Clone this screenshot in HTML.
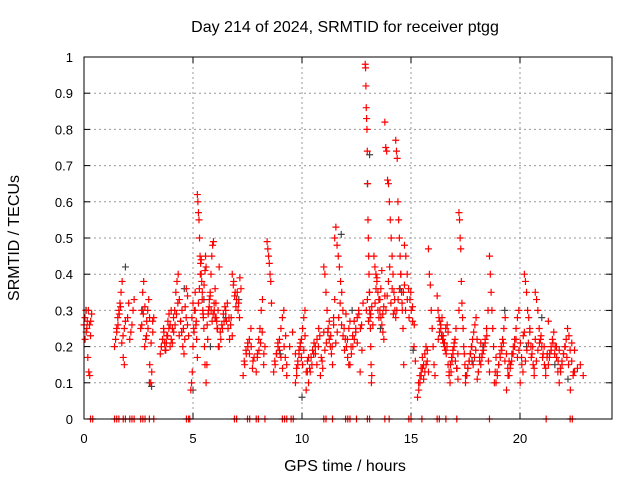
<!DOCTYPE html>
<html><head><meta charset="utf-8"><style>
body{margin:0;background:#fff}
svg text{font-family:"Liberation Sans",sans-serif;fill:#000}
</style></head><body>
<svg id="chart" width="640" height="480" viewBox="0 0 640 480" xmlns="http://www.w3.org/2000/svg">
<rect width="640" height="480" fill="#fff"/>
<text x="345" y="32" font-size="16" text-anchor="middle">Day 214 of 2024, SRMTID for receiver ptgg</text>
<text transform="translate(19,238) rotate(-90)" font-size="16" text-anchor="middle">SRMTID / TECUs</text>
<text x="345" y="471" font-size="16" text-anchor="middle">GPS time / hours</text>
<g id="grid"></g><g id="axes"></g><g id="gray"></g><g id="red"></g>
<rect x="84" y="57" width="528" height="362" fill="none" stroke="#000" stroke-width="1"/>
</svg>
<script>
const xTicks=[0,5,10,15,20];
const yTicks=[0,0.1,0.2,0.3,0.4,0.5,0.6,0.7,0.8,0.9,1];
const yTickLabels=["0","0.1","0.2","0.3","0.4","0.5","0.6","0.7","0.8","0.9","1"];
// red series groups: [startHour, endHour, values...]
const redGroups=[
[0.0,0.35,[0.26,0.28,0.3,0.25,0.17,0.13,0.12,0.27,0.29]],
[1.4,1.9,[0.2,0.22,0.25,0.28,0.3,0.32,0.35,0.38,0.17,0.15,0.27]],
[2.0,2.3,[0.28,0.32,0.22,0.24,0.26,0.3,0.33]],
[2.6,3.2,[0.25,0.3,0.35,0.38,0.2,0.22,0.27,0.3,0.33,0.15,0.1,0.13,0.24,0.28]],
[3.5,4.0,[0.18,0.2,0.22,0.25,0.21,0.19,0.23,0.27,0.29,0.26,0.3]],
[4.0,4.8,[0.22,0.25,0.28,0.3,0.35,0.38,0.4,0.33,0.27,0.24,0.2,0.18,0.31,0.36,0.26,0.23]],
[4.9,5.2,[0.08,0.1,0.13,0.2,0.25,0.3,0.35,0.26,0.22,0.17]],
[5.2,5.6,[0.62,0.6,0.57,0.55,0.5,0.45,0.43,0.4,0.38,0.35,0.3,0.28,0.25,0.2,0.15,0.45,0.42]],
[5.6,6.2,[0.1,0.15,0.22,0.3,0.33,0.35,0.4,0.45,0.48,0.49,0.3,0.28,0.32,0.27,0.25,0.2,0.42]],
[6.2,6.8,[0.2,0.22,0.25,0.27,0.3,0.32,0.28,0.26,0.23]],
[6.8,7.2,[0.4,0.38,0.35,0.33,0.3,0.28,0.36]],
[7.3,7.8,[0.12,0.15,0.18,0.2,0.22,0.25,0.14,0.17]],
[7.9,8.3,[0.13,0.18,0.22,0.25,0.3,0.33,0.15,0.2]],
[8.4,8.6,[0.49,0.47,0.45,0.43,0.4,0.38,0.32]],
[8.7,9.3,[0.13,0.15,0.18,0.2,0.22,0.25,0.28,0.3,0.17,0.12]],
[9.3,9.7,[0.15,0.2,0.24,0.18]],
[9.7,10.3,[0.1,0.12,0.15,0.18,0.2,0.22,0.25,0.28,0.3,0.08,0.13,0.17]],
[10.3,11.0,[0.1,0.13,0.15,0.18,0.2,0.22,0.25,0.12,0.16,0.24]],
[11.0,11.5,[0.42,0.4,0.35,0.3,0.25,0.22,0.2,0.18,0.15,0.28,0.33]],
[11.5,12.2,[0.5,0.53,0.48,0.45,0.42,0.38,0.35,0.3,0.25,0.22,0.2,0.17,0.15,0.27]],
[12.2,12.8,[0.15,0.18,0.2,0.22,0.25,0.28,0.3,0.13,0.26,0.32]],
[12.9,13.2,[0.98,0.97,0.92,0.86,0.83,0.8,0.74,0.65,0.55,0.5,0.45,0.4,0.35,0.3,0.28,0.25,0.2,0.15,0.1,0.12]],
[13.3,13.8,[0.45,0.42,0.4,0.38,0.35,0.33,0.3,0.28,0.26,0.24,0.22,0.34]],
[13.8,14.3,[0.82,0.75,0.74,0.66,0.65,0.6,0.55,0.5,0.45,0.4,0.35,0.3,0.28]],
[14.3,14.7,[0.77,0.74,0.72,0.6,0.55,0.5,0.45,0.4,0.35,0.3,0.25,0.15,0.37]],
[14.7,15.2,[0.48,0.45,0.4,0.36,0.33,0.3,0.27,0.2,0.16]],
[15.3,15.8,[0.06,0.08,0.1,0.12,0.14,0.15,0.18,0.2,0.16,0.13]],
[15.8,16.1,[0.47,0.4,0.37,0.3,0.25,0.2,0.15,0.12]],
[16.2,16.7,[0.34,0.3,0.28,0.27,0.25,0.23,0.22,0.21,0.2,0.19,0.18,0.26,0.24]],
[16.7,17.2,[0.15,0.12,0.1,0.13,0.16,0.18,0.2,0.22,0.25,0.14,0.11,0.3]],
[17.2,17.5,[0.57,0.55,0.5,0.47,0.38,0.32,0.28,0.25,0.2,0.18,0.15,0.12]],
[17.5,18.2,[0.1,0.12,0.14,0.16,0.18,0.2,0.22,0.24,0.26,0.28,0.11,0.13,0.17,0.21]],
[18.2,18.6,[0.15,0.18,0.2,0.22,0.25,0.3,0.13]],
[18.6,18.9,[0.45,0.4,0.35,0.3,0.25,0.2,0.1,0.13,0.17]],
[18.9,19.5,[0.1,0.12,0.15,0.18,0.2,0.22,0.25,0.28,0.08,0.14,0.16]],
[19.5,20.2,[0.12,0.15,0.18,0.2,0.22,0.25,0.28,0.3,0.1,0.17,0.13,0.24]],
[20.2,20.7,[0.4,0.38,0.35,0.3,0.28,0.25,0.2,0.18,0.15,0.12,0.22]],
[20.7,21.3,[0.35,0.33,0.3,0.25,0.22,0.2,0.18,0.15,0.12,0.17,0.27]],
[21.3,21.8,[0.15,0.18,0.2,0.22,0.24,0.2,0.17,0.13,0.19]],
[21.8,22.5,[0.1,0.13,0.15,0.18,0.2,0.22,0.25,0.23,0.08,0.16,0.12,0.19]],
[22.5,22.9,[0.13,0.14,0.15,0.12]],
// additional dense-cluster readings
[0.05,0.3,[0.22,0.24,0.27,0.3,0.26,0.23]],
[1.5,1.85,[0.24,0.26,0.29,0.31,0.21,0.23,0.25]],
[2.65,3.15,[0.26,0.29,0.31,0.23,0.25,0.28,0.21,0.27]],
[3.55,3.95,[0.2,0.22,0.24,0.19,0.21,0.23,0.25,0.2]],
[4.05,4.75,[0.21,0.24,0.26,0.29,0.32,0.23,0.27,0.3,0.25,0.22,0.28,0.34]],
[4.95,5.15,[0.28,0.32,0.24,0.3,0.27]],
[5.25,5.55,[0.32,0.36,0.4,0.44,0.33,0.29,0.37,0.41]],
[5.65,6.15,[0.26,0.29,0.31,0.34,0.3,0.27,0.29,0.32,0.36,0.28,0.25,0.3]],
[6.25,6.75,[0.24,0.26,0.29,0.31,0.27,0.25,0.22,0.28]],
[6.85,7.15,[0.37,0.34,0.31,0.35,0.32,0.39]],
[7.35,7.75,[0.16,0.19,0.21,0.18,0.2,0.16]],
[7.95,8.25,[0.17,0.19,0.21,0.24,0.18]],
[8.75,9.25,[0.16,0.18,0.21,0.19,0.17,0.14,0.2,0.23]],
[9.75,10.25,[0.14,0.16,0.19,0.21,0.17,0.15,0.19,0.23,0.13,0.16]],
[10.35,10.95,[0.14,0.17,0.19,0.21,0.18,0.15,0.2,0.23,0.17,0.14]],
[11.05,11.45,[0.19,0.21,0.24,0.27,0.23,0.2,0.26]],
[11.55,12.15,[0.21,0.24,0.28,0.32,0.26,0.23,0.19,0.29,0.22,0.25]],
[12.25,12.75,[0.2,0.23,0.27,0.24,0.21,0.29,0.25,0.19]],
[12.95,13.25,[0.3,0.33,0.27,0.35,0.29,0.31,0.26]],
[13.35,13.75,[0.32,0.36,0.39,0.3,0.28,0.33,0.36,0.41,0.29,0.31]],
[13.85,14.25,[0.3,0.34,0.38,0.42,0.32,0.36,0.29,0.33]],
[14.35,14.65,[0.3,0.33,0.36,0.4,0.32,0.35]],
[14.75,15.15,[0.3,0.33,0.28,0.35,0.31,0.26]],
[15.35,15.75,[0.1,0.12,0.14,0.17,0.11,0.13,0.15,0.19]],
[16.25,16.65,[0.22,0.24,0.26,0.28,0.23,0.21,0.25,0.2]],
[16.75,17.15,[0.13,0.15,0.17,0.19,0.21,0.16,0.14,0.18]],
[17.55,18.15,[0.12,0.14,0.16,0.18,0.2,0.15,0.17,0.19,0.22,0.13,0.16]],
[18.25,18.55,[0.17,0.19,0.21,0.23,0.16]],
[18.95,19.45,[0.13,0.15,0.17,0.19,0.21,0.16,0.18,0.12]],
[19.55,20.15,[0.14,0.16,0.18,0.2,0.22,0.17,0.19,0.21,0.15,0.23]],
[20.25,20.65,[0.16,0.19,0.21,0.24,0.17,0.2,0.14]],
[20.75,21.25,[0.16,0.19,0.21,0.23,0.17,0.2,0.14,0.18]],
[21.35,21.75,[0.17,0.19,0.21,0.18,0.2,0.16]],
[21.85,22.45,[0.14,0.16,0.18,0.2,0.17,0.15,0.19,0.21,0.13]]
];
const grayTimes=[0.1,1.9,2.7,3.0,3.1,4.6,5.0,5.5,5.8,6.5,7.1,9.0,10.0,11.8,12.3,13.0,13.1,13.6,14.5,15.1,16.4,17.8,18.3,19.3,20.3,21.0,21.6,22.2];
const grayVals=[0.3,0.42,0.3,0.1,0.09,0.36,0.08,0.33,0.2,0.28,0.33,0.18,0.06,0.51,0.3,0.65,0.73,0.25,0.36,0.19,0.23,0.16,0.2,0.3,0.2,0.28,0.15,0.11];
const zeroTimes=[0.3,0.4,1.4,1.5,1.6,1.8,1.9,2.1,2.2,2.3,2.6,2.7,2.8,3.0,3.2,4.7,4.8,4.85,6.9,7.0,7.5,7.6,7.9,8.0,8.3,9.1,9.2,9.3,9.5,9.6,11.0,11.1,11.4,12.0,12.1,12.2,12.5,13.0,13.1,13.8,14.0,14.9,15.0,15.5,16.2,16.3,16.6,17.1,18.6,21.2,22.3,22.4];

const X0=84,X1=612,Y0=419,Y1=57,XMAX=24.22;
const xs=h=>X0+h/XMAX*(X1-X0);
const ys=v=>Y0-v*(Y0-Y1);
const NS="http://www.w3.org/2000/svg";
function mk(tag,attrs,parent){const e=document.createElementNS(NS,tag);for(const k in attrs)e.setAttribute(k,attrs[k]);parent.appendChild(e);return e;}
const grid=document.getElementById('grid'),axes=document.getElementById('axes');
yTicks.forEach((v,i)=>{
  const y=ys(v);
  if(v>0&&v<1){const g=mk('line',{x1:X0,x2:X1,y1:y,y2:y,stroke:'#999','stroke-dasharray':'2,3'},grid);
  
  }
  mk('line',{x1:X0,x2:X0+6,y1:y,y2:y,stroke:'#000'},axes);
  mk('line',{x1:X1,x2:X1-6,y1:y,y2:y,stroke:'#000'},axes);
  const t=mk('text',{x:73,y:y+5,'font-size':13,'text-anchor':'end'},axes);t.textContent=yTickLabels[i];
  
  
});
xTicks.forEach(h=>{
  const x=xs(h);
  if(h>0){const g=mk('line',{x1:x,x2:x,y1:Y0,y2:Y1,stroke:'#999','stroke-dasharray':'2,3'},grid);
  
  }
  mk('line',{x1:x,x2:x,y1:Y0,y2:Y0-6,stroke:'#000'},axes);
  mk('line',{x1:x,x2:x,y1:Y1,y2:Y1+6,stroke:'#000'},axes);
  const t=mk('text',{x:x,y:443,'font-size':13,'text-anchor':'middle'},axes);t.textContent=String(h);
  
  
});
function plus(g,h,v,c){
  const x=xs(h),y=ys(v);
  return mk('path',{d:`M${x-3.5},${y}h7M${x},${y-3.5}v7`,stroke:c,'stroke-width':1.2,fill:'none'},g);
}
const gray=document.getElementById('gray'),red=document.getElementById('red');
grayTimes.forEach((h,i)=>{const p=plus(gray,h,grayVals[i],'#444');
  
  });
redGroups.forEach(([t0,t1,vals])=>{
  vals.forEach((v,i)=>{const h=t0+(t1-t0)*(vals.length>1?i/(vals.length-1):0);
    const p=plus(red,h,v,'#f00');
    
    });
});
zeroTimes.forEach(h=>{const p=plus(red,h,0,'#f00');
  
  });
</script>
</body></html>
